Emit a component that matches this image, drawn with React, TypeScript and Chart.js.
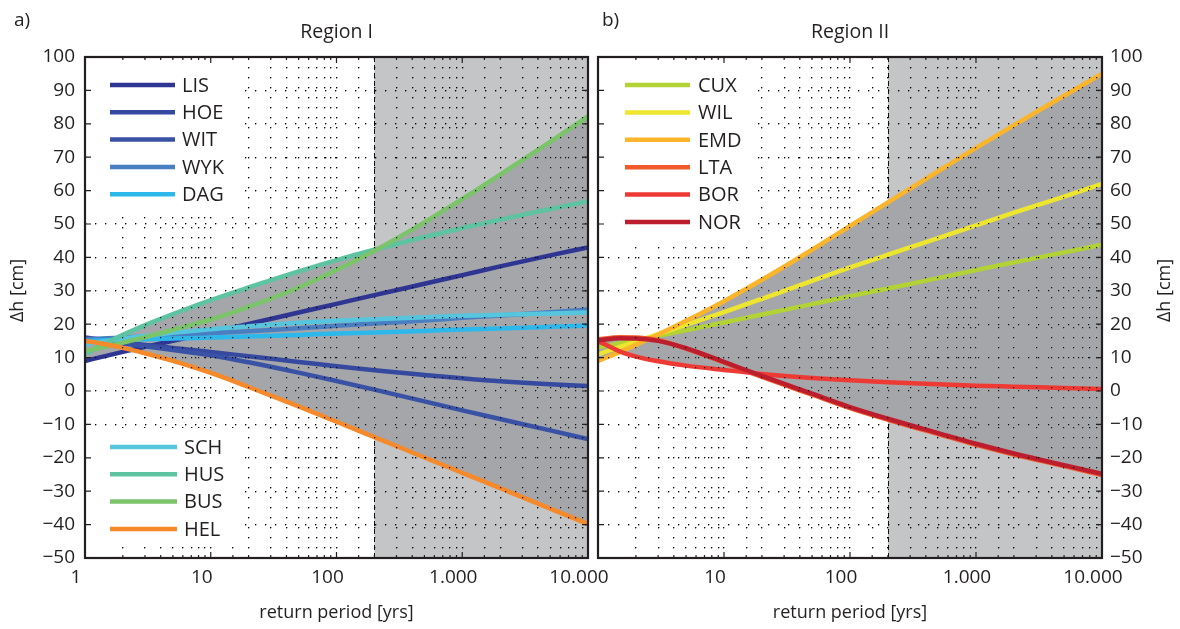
import React, { useEffect, useRef } from 'react';
import { Chart, registerables } from 'chart.js';

Chart.register(...registerables);

// ---------- data ----------
const RETURN_PERIODS = [1, 1.5, 2, 3, 5, 10, 20, 50, 100, 200, 500, 1000, 2000, 5000, 10000];
const X_LABELED = [1, 10, 100, 1000, 10000];
const Y_MIN = -50;
const Y_MAX = 100;
const SHADE_FROM = 200;

// Region I
const LIS = [9, 10.6, 11.7, 13.2, 15, 17.5, 20.1, 23.5, 26.1, 28.7, 32.1, 34.7, 37.3, 40.6, 43];
const HOE = [16, 15.2, 14.6, 13.8, 12.9, 11.7, 10.4, 8.7, 7.4, 6.2, 4.8, 3.8, 2.9, 2.0, 1.5];
const WIT = [15.5, 14.8, 14.2, 13.4, 12.3, 10.7, 8.6, 5.5, 3.0, 0.4, -3.1, -5.8, -8.4, -11.8, -14.4];
const WYK = [15.5, 15.8, 16, 16.3, 16.7, 17.3, 17.9, 18.8, 19.5, 20.2, 21.1, 21.9, 22.6, 23.6, 24.4];
const DAG = [15, 15.2, 15.3, 15.5, 15.7, 16, 16.3, 16.8, 17.2, 17.5, 18, 18.4, 18.7, 19.2, 19.6];
const SCH = [14, 15, 15.7, 16.5, 17.4, 18.5, 19.4, 20.4, 21, 21.5, 22.1, 22.5, 22.8, 23.2, 23.5];
const HUS = [11, 14.5, 16.8, 19.7, 23, 27.2, 31, 35.8, 39.2, 42.3, 46.1, 48.8, 51.3, 54.5, 56.8];
const BUS = [12, 13.4, 14.5, 16.1, 18.3, 21.4, 25.2, 31, 36.2, 42, 50.5, 57.5, 64.8, 74.6, 82.2];
const HEL = [15, 13.9, 12.9, 11.3, 9, 5.4, 1.2, -4.6, -9.2, -13.8, -19.9, -24.5, -29.1, -35.2, -39.8];

// Region II
const CUX = [13, 14.3, 15.2, 16.5, 18.2, 20.5, 22.9, 26, 28.4, 30.7, 33.8, 36.2, 38.5, 41.5, 43.8];
const WIL = [11, 13.2, 14.8, 17, 19.8, 23.6, 27.6, 33, 37, 40.8, 45.8, 49.6, 53.4, 58.2, 62];
const EMD = [9, 11.7, 13.8, 16.9, 21, 26.9, 33.3, 42.3, 49.4, 56.5, 65.8, 72.8, 79.6, 88.4, 95];
const LTA = [15.5, 16.1, 16, 15.2, 12.7, 8.5, 4.2, -1.1, -5.1, -8.6, -12.9, -16.1, -19, -22.5, -25.2];
const BOR = [15, 11.8, 10.3, 8.9, 7.6, 6.3, 5.1, 3.9, 3.2, 2.6, 2, 1.6, 1.3, 0.9, 0.6];
const NOR = [15.2, 15.8, 15.7, 15, 12.8, 8.7, 4.5, -0.8, -4.8, -8.3, -12.6, -15.8, -18.7, -22.2, -24.8];

const NAMES_I = ['LIS', 'HOE', 'WIT', 'WYK', 'DAG', 'SCH', 'HUS', 'BUS', 'HEL'];
const SERIES_I = [LIS, HOE, WIT, WYK, DAG, SCH, HUS, BUS, HEL];
const COLORS_I = ['#2e3592', '#34499f', '#3a52a6', '#4a7ec2', '#2db8ec', '#55c6de', '#5ec3a1', '#7bc46a', '#f6892a'];

const NAMES_II = ['CUX', 'WIL', 'EMD', 'LTA', 'BOR', 'NOR'];
const SERIES_II = [CUX, WIL, EMD, LTA, BOR, NOR];
const COLORS_II = ['#b2d236', '#eee62e', '#fbb52b', '#f15a2b', '#ee3a35', '#bd1e2d'];

// ---------- style ----------
const FONT = '"Open Sans", "Noto Sans", sans-serif';
const TEXT = '#231f20';
const LIGHT = '#c4c5c7';
const DARK = '#a4a6aa';
const H = 629;

type LegendGroup = {
  names: string[];
  box: [number, number, number, number];
  rowY0: number;
  rowStep: number;
  lineX0: number;
  lineX1: number;
  textX: number;
};

type PanelCfg = {
  names: string[];
  series: number[][];
  colors: string[];
  title: string;
  tag: string;
  tagX: number;
  side: 'left' | 'right';
  hideFirstX: boolean;
  legend: LegendGroup[];
};

const fmtX = (v: number) => String(Math.round(v)).replace(/\B(?=(\d{3})+(?!\d))/g, '.');
const isPow10 = (v: number) => {
  const l = Math.log10(v);
  return Math.abs(l - Math.round(l)) < 1e-9;
};

function makePlugin(cfg: PanelCfg) {
  return {
    id: 'decor',
    beforeDraw(chart: any) {
      const { ctx, chartArea: a } = chart;
      const x = chart.scales.x;
      const xs = x.getPixelForValue(SHADE_FROM);
      ctx.save();
      ctx.fillStyle = LIGHT;
      ctx.fillRect(xs, a.top, a.right - xs, a.bottom - a.top);
      ctx.strokeStyle = '#111';
      ctx.lineWidth = 1;
      ctx.setLineDash([5, 3]);
      ctx.beginPath();
      ctx.moveTo(Math.round(xs) + 0.5, a.top);
      ctx.lineTo(Math.round(xs) + 0.5, a.bottom);
      ctx.stroke();
      ctx.restore();
    },
    afterDatasetsDraw(chart: any) {
      const { ctx, chartArea: a } = chart;
      chart.scales.x.drawGrid(a);
      chart.scales.y.drawGrid(a);
      ctx.save();
      for (const g of cfg.legend) {
        ctx.fillStyle = '#fff';
        ctx.fillRect(a.left + g.box[0], a.top + g.box[1], g.box[2] - g.box[0], g.box[3] - g.box[1]);
        g.names.forEach((n, r) => {
          const k = cfg.names.indexOf(n);
          const y = a.top + g.rowY0 + r * g.rowStep;
          ctx.strokeStyle = cfg.colors[k];
          ctx.lineWidth = 4.5;
          ctx.setLineDash([]);
          ctx.beginPath();
          ctx.moveTo(a.left + g.lineX0, y);
          ctx.lineTo(a.left + g.lineX1, y);
          ctx.stroke();
          ctx.fillStyle = TEXT;
          ctx.font = `20px ${FONT}`;
          ctx.textAlign = 'left';
          ctx.textBaseline = 'middle';
          ctx.fillText(n, a.left + g.textX, y + 1);
        });
      }
      ctx.restore();
    },
    afterDraw(chart: any) {
      const { ctx, chartArea: a } = chart;
      const x = chart.scales.x;
      const y = chart.scales.y;
      ctx.save();
      ctx.strokeStyle = TEXT;
      ctx.setLineDash([]);
      ctx.lineWidth = 1.2;
      // inward ticks
      for (const t of y.ticks) {
        const py = y.getPixelForValue(t.value);
        ctx.beginPath();
        ctx.moveTo(a.left, py);
        ctx.lineTo(a.left + 6, py);
        ctx.moveTo(a.right, py);
        ctx.lineTo(a.right - 6, py);
        ctx.stroke();
      }
      for (const t of x.ticks) {
        const px = x.getPixelForValue(t.value);
        const len = isPow10(t.value) ? 6 : 3;
        ctx.beginPath();
        ctx.moveTo(px, a.bottom);
        ctx.lineTo(px, a.bottom - len);
        ctx.moveTo(px, a.top);
        ctx.lineTo(px, a.top + len);
        ctx.stroke();
      }
      // frame
      ctx.lineWidth = 2.2;
      ctx.strokeRect(a.left, a.top, a.right - a.left, a.bottom - a.top);
      // texts
      ctx.fillStyle = TEXT;
      ctx.textAlign = 'center';
      ctx.textBaseline = 'middle';
      const cx = (a.left + a.right) / 2;
      ctx.font = `19.5px ${FONT}`;
      ctx.fillText(cfg.title, cx, 32);
      ctx.font = `18px ${FONT}`;
      ctx.fillText('return period [yrs]', cx, 613);
      ctx.font = `19px ${FONT}`;
      ctx.textAlign = 'left';
      ctx.fillText(cfg.tag, cfg.tagX, 21);
      const yx = cfg.side === 'left' ? a.left - 67 : a.right + 63;
      ctx.font = `18px ${FONT}`;
      ctx.translate(yx, (a.top + a.bottom) / 2 - 17);
      ctx.rotate(-Math.PI / 2);
      ctx.textAlign = 'center';
      ctx.fillText('\u0394h [cm]', 0, 0);
      ctx.restore();
    },
  };
}

function buildConfig(cfg: PanelCfg): any {
  const upper = RETURN_PERIODS.map((_, i) => Math.max(...cfg.series.map((s) => s[i])));
  const lower = RETURN_PERIODS.map((_, i) => Math.min(...cfg.series.map((s) => s[i])));
  const pts = (arr: number[]) => RETURN_PERIODS.map((x, i) => ({ x, y: arr[i] }));
  const n = cfg.names.length;
  const datasets: any[] = [
    {
      label: 'envelope-upper',
      data: pts(upper),
      fill: 1,
      backgroundColor: DARK,
      borderColor: 'rgba(0,0,0,0)',
      borderWidth: 0,
      pointRadius: 0,
      cubicInterpolationMode: 'monotone',
      order: 100,
    },
    {
      label: 'envelope-lower',
      data: pts(lower),
      fill: false,
      borderColor: 'rgba(0,0,0,0)',
      borderWidth: 0,
      pointRadius: 0,
      cubicInterpolationMode: 'monotone',
      order: 101,
    },
    ...cfg.series.map((s, k) => ({
      label: cfg.names[k],
      data: pts(s),
      borderColor: cfg.colors[k],
      backgroundColor: cfg.colors[k],
      borderWidth: 4.5,
      pointRadius: 0,
      fill: false,
      cubicInterpolationMode: 'monotone',
      borderCapStyle: 'butt',
      order: n - k,
    })),
  ];
  const gridCommon = {
    color: 'rgba(0,0,0,0.9)',
    lineWidth: 1.2,
    drawTicks: false,
    borderDash: [1.2, 8.8],
  };
  const border = { display: false, dash: [1.2, 8.8] };
  return {
    type: 'line',
    data: { datasets },
    plugins: [makePlugin(cfg)],
    options: {
      animation: false,
      responsive: false,
      devicePixelRatio: 1,
      events: [],
      layout: {
        padding: cfg.side === 'left' ? { top: 57, left: 0, right: 32, bottom: 0 } : { top: 57, left: 38, right: 0, bottom: 0 },
      },
      plugins: {
        legend: { display: false },
        tooltip: { enabled: false },
        title: { display: false },
        filler: { drawTime: 'beforeDatasetsDraw', propagate: false },
      },
      scales: {
        x: {
          type: 'logarithmic',
          position: 'bottom',
          min: 1,
          max: 10000,
          grid: gridCommon,
          border,
          ticks: {
            autoSkip: false,
            maxRotation: 0,
            minRotation: 0,
            padding: 8,
            labelOffset: -9,
            color: TEXT,
            font: { family: FONT, size: 19 },
            callback: (v: number) => {
              if (!isPow10(v)) return '';
              if (cfg.hideFirstX && Math.round(v) === X_LABELED[0]) return '';
              return X_LABELED.includes(Math.round(v)) ? fmtX(v) : '';
            },
          },
          afterFit: (s: any) => {
            s.height = 71;
            s.paddingLeft = 0;
            s.paddingRight = 0;
          },
        },
        y: {
          type: 'linear',
          position: cfg.side,
          min: Y_MIN,
          max: Y_MAX,
          grid: gridCommon,
          border,
          ticks: {
            stepSize: 10,
            padding: cfg.side === 'left' ? 10 : 8,
            color: TEXT,
            font: { family: FONT, size: 19 },
            callback: (v: number) => (v < 0 ? '\u2212' + Math.abs(v) : String(v)),
          },
          afterFit: (s: any) => {
            s.width = cfg.side === 'left' ? 85 : 78;
            s.paddingTop = 0;
            s.paddingBottom = 0;
          },
        },
      },
    },
  };
}

const PANEL_I: PanelCfg = {
  names: NAMES_I,
  series: SERIES_I,
  colors: COLORS_I,
  title: 'Region I',
  tag: 'a)',
  tagX: 14,
  side: 'left',
  hideFirstX: false,
  legend: [
    { names: ['LIS', 'HOE', 'WIT', 'WYK', 'DAG'], box: [1, 7, 157, 153], rowY0: 28, rowStep: 27.3, lineX0: 25, lineX1: 90, textX: 97 },
    { names: ['SCH', 'HUS', 'BUS', 'HEL'], box: [1, 371, 157, 486], rowY0: 390, rowStep: 27.3, lineX0: 25, lineX1: 92, textX: 99 },
  ],
};

const PANEL_II: PanelCfg = {
  names: NAMES_II,
  series: SERIES_II,
  colors: COLORS_II,
  title: 'Region II',
  tag: 'b)',
  tagX: 42,
  side: 'right',
  hideFirstX: true,
  legend: [
    { names: ['CUX', 'WIL', 'EMD', 'LTA', 'BOR', 'NOR'], box: [1, 7, 159, 183], rowY0: 28, rowStep: 27.4, lineX0: 27, lineX1: 92, textX: 100 },
  ],
};

function Panel({ cfg, left, width }: { cfg: PanelCfg; left: number; width: number }) {
  const ref = useRef<HTMLCanvasElement>(null);
  useEffect(() => {
    const chart = new Chart(ref.current as HTMLCanvasElement, buildConfig(cfg));
    return () => chart.destroy();
  }, [cfg]);
  return (
    <canvas
      ref={ref}
      width={width}
      height={H}
      style={{ position: 'absolute', left, top: 0, width, height: H }}
    />
  );
}

export default function App() {
  return (
    <div style={{ position: 'fixed', left: 0, top: 0, width: 1180, height: H, background: '#fff', overflow: 'hidden' }}>
      <Panel cfg={PANEL_I} left={0} width={620} />
      <Panel cfg={PANEL_II} left={560} width={620} />
    </div>
  );
}
